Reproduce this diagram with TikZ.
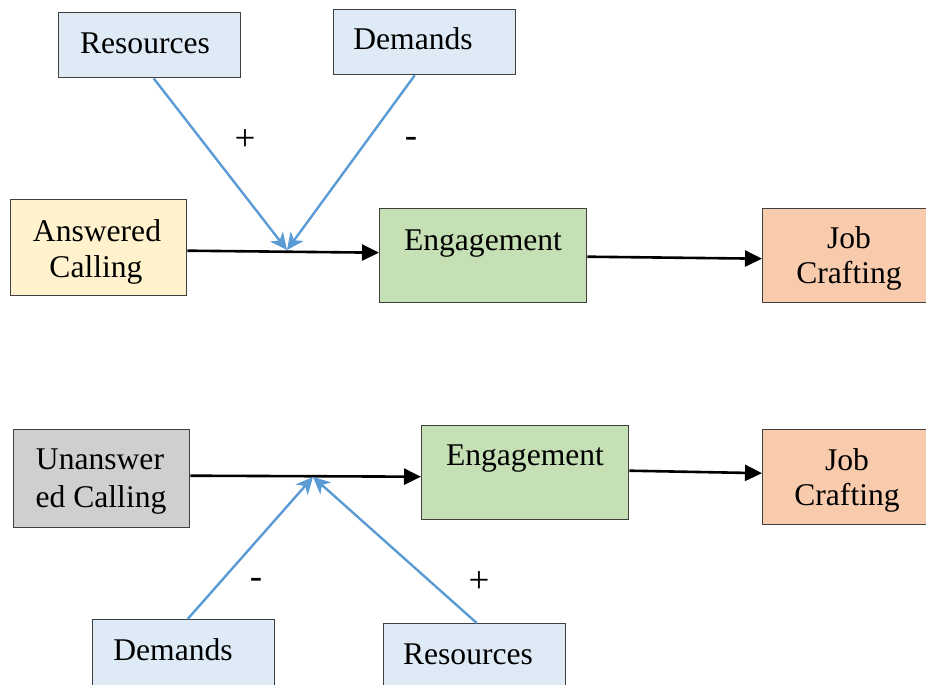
\documentclass[tikz,border=0pt]{standalone}
\usepackage{fontspec}
\setmainfont{Liberation Serif}
\usetikzlibrary{arrows.meta,calc}
\definecolor{fillblue}{HTML}{DEEBF7}
\definecolor{fillyellow}{HTML}{FFF2CC}
\definecolor{fillgreen}{HTML}{C5E0B4}
\definecolor{fillorange}{HTML}{F8CBAD}
\definecolor{fillgray}{HTML}{D0CECE}
\definecolor{framegray}{HTML}{404040}
\definecolor{linkblue}{HTML}{5B9BD5}
\begin{document}
\begin{tikzpicture}[x=1pt,y=-1pt,
  box/.style={draw=framegray,line width=1.4pt,inner sep=0pt,anchor=north west},
  txt/.style={font=\fontsize{31.6}{36}\selectfont,inner sep=0pt,anchor=base},
  sign/.style={font=\fontsize{37}{40}\selectfont,inner sep=0pt},
  mainlink/.style={line width=2.6pt,-{Triangle[length=17pt,width=16pt]}},
  modlink/.style={draw=linkblue,line width=2.4pt,-{Stealth[length=17pt,width=16pt,inset=5pt]}}]
\useasboundingbox (0,0) rectangle (926,685);
\clip (0,0) rectangle (926,685);

% upper model: answered calling
\node[box,fill=fillblue,minimum width=182pt,minimum height=65pt] (resA) at (58,12) {};
\node[txt] at (145,53) {Resources};
\node[box,fill=fillblue,minimum width=182pt,minimum height=65pt] (demA) at (333,9) {};
\node[txt] at (413,50) {Demands};
\node[box,fill=fillyellow,minimum width=176pt,minimum height=96pt] (calA) at (10,199) {};
\node[txt] at (97,241) {Answered};
\node[txt] at (96,277) {Calling};
\node[box,fill=fillgreen,minimum width=207pt,minimum height=94pt] (engA) at (379,208) {};
\node[txt] at (483,250) {Engagement};
\node[box,fill=fillorange,minimum width=170pt,minimum height=94pt] (jobA) at (762,208) {};
\node[txt] at (849,248) {Job};
\node[txt] at (849,283) {Crafting};

\coordinate (modA) at (287,250);
\draw[mainlink] ($(calA.east)+(0,3)$) -- ($(engA.west)+(0,-3)$);
\draw[mainlink] ($(engA.east)+(0,1)$) -- ($(jobA.west)+(0,3)$);
\draw[modlink] ($(resA.south)+(4,0)$) -- (modA);
\draw[modlink] ($(demA.south)+(-10,0)$) -- (modA);
\node[sign] at (245,140) {+};
\node[sign] at (411,142) {-};

% lower model: unanswered calling
\node[box,fill=fillgray,minimum width=176pt,minimum height=98pt] (calB) at (13,429) {};
\node[txt] at (100,469) {Unanswer};
\node[txt] at (101,507) {ed Calling};
\node[box,fill=fillgreen,minimum width=207pt,minimum height=94pt] (engB) at (421,425) {};
\node[txt] at (525,465) {Engagement};
\node[box,fill=fillorange,minimum width=170pt,minimum height=95pt] (jobB) at (762,429) {};
\node[txt] at (847,470) {Job};
\node[txt] at (847,505) {Crafting};
\node[box,fill=fillblue,minimum width=182pt,minimum height=75pt] (demB) at (92,619) {};
\node[txt] at (173,660) {Demands};
\node[box,fill=fillblue,minimum width=182pt,minimum height=75pt] (resB) at (383,623) {};
\node[txt] at (468,664) {Resources};

\coordinate (modB) at (313,477);
\draw[mainlink] ($(calB.east)+(0,-3)$) -- ($(engB.west)+(0,4)$);
\draw[mainlink] ($(engB.east)+(0,-2)$) -- ($(jobB.west)+(0,-4)$);
\draw[modlink] ($(demB.north)+(4,0)$) -- (modB);
\draw[modlink] ($(resB.north)+(2,0)$) -- (modB);
\node[sign] at (256,583) {-};
\node[sign] at (479,582) {+};
\end{tikzpicture}
\end{document}
